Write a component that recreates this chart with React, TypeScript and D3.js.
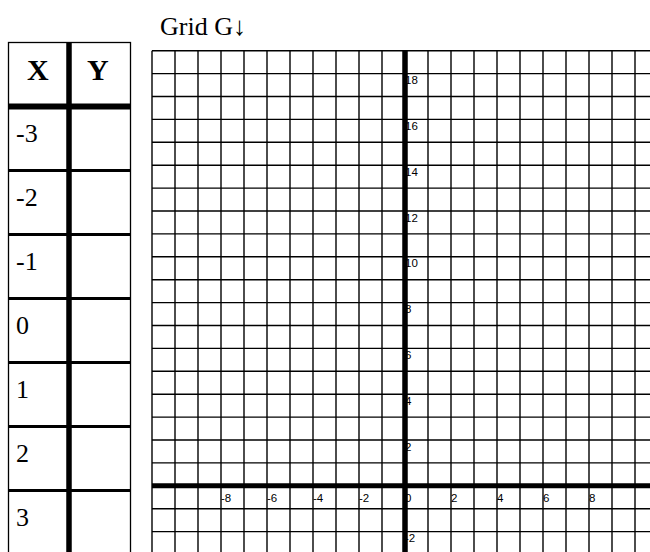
import React from "react";
import * as d3 from "d3";

const title = "Grid G\u2193";
const tableHeaders = ["X", "Y"];
const tableXValues = ["-3", "-2", "-1", "0", "1", "2", "3"];
const xDomain = [-11, 11];
const yDomain = [-3, 19];
const xTickLabels = [-8, -6, -4, -2, 0, 2, 4, 6, 8];
const yTickLabels = [-2, 2, 4, 6, 8, 10, 12, 14, 16, 18];

const W = 650;
const H = 552;

export default function App() {
  const x = d3.scaleLinear().domain(xDomain).range([152, 658]);
  const y = d3.scaleLinear().domain(yDomain).range([554.5, 50.7]);
  const xs = d3.range(xDomain[0], xDomain[1] + 1);
  const ys = d3.range(yDomain[0], yDomain[1] + 1);

  // table layout
  const tLeft = 8.5;
  const tRight = 130.5;
  const tTop = 42.5;
  const divX = 69;
  const headerLine = 106.5;
  const rowH = 64;
  const rowY = d3.scaleLinear().domain([0, 1]).range([headerLine, headerLine + rowH]);

  const serif = "'Liberation Serif', 'Times New Roman', serif";
  const sans = "'Liberation Sans', Arial, sans-serif";

  return (
    <svg
      width={W}
      height={H}
      style={{ position: "absolute", left: 0, top: 0, background: "#fff" }}
    >
      <rect x={0} y={0} width={W} height={H} fill="#fff" />
      {/* title */}
      <text x={160} y={35} fontFamily={serif} fontSize={26} fill="#000">
        {title}
      </text>

      {/* table */}
      <rect
        x={tLeft}
        y={tTop}
        width={tRight - tLeft}
        height={H + 20}
        fill="none"
        stroke="#000"
        strokeWidth={1.3}
      />
      {tableHeaders.map((h, i) => (
        <text
          key={h}
          x={i === 0 ? (tLeft + divX) / 2 - 1 : (divX + tRight) / 2 - 2}
          y={80}
          textAnchor="middle"
          fontFamily={serif}
          fontWeight="bold"
          fontSize={30}
          fill="#000"
        >
          {h}
        </text>
      ))}
      {tableXValues.map((v, i) => (
        <g key={v}>
          {i > 0 && (
            <line
              x1={tLeft}
              x2={tRight}
              y1={rowY(i)}
              y2={rowY(i)}
              stroke="#000"
              strokeWidth={3}
            />
          )}
          <text
            x={16}
            y={rowY(i) + 35}
            fontFamily={serif}
            fontSize={26}
            fill="#000"
          >
            {v}
          </text>
        </g>
      ))}
      <line x1={tLeft} x2={tRight} y1={headerLine} y2={headerLine} stroke="#000" strokeWidth={6} />
      <line x1={divX} x2={divX} y1={tTop} y2={H + 10} stroke="#000" strokeWidth={5.5} />

      {/* grid */}
      {xs.map((v) => (
        <line
          key={"vx" + v}
          x1={x(v)}
          x2={x(v)}
          y1={y(yDomain[1])}
          y2={H + 10}
          stroke="#000"
          strokeWidth={1.4}
        />
      ))}
      {ys.map((v) => (
        <line
          key={"hy" + v}
          x1={x(xDomain[0])}
          x2={W + 10}
          y1={y(v)}
          y2={y(v)}
          stroke="#000"
          strokeWidth={1.4}
        />
      ))}

      {/* tick labels */}
      {xTickLabels.map((v) => (
        <text
          key={"xl" + v}
          x={x(v)}
          y={y(0) + 16}
          fontFamily={sans}
          fontSize={11.5}
          fill="#000"
        >
          {v}
        </text>
      ))}
      {yTickLabels.map((v) => (
        <text
          key={"yl" + v}
          x={x(0)}
          y={y(v) + 10.5}
          fontFamily={sans}
          fontSize={11.5}
          fill="#000"
        >
          {v}
        </text>
      ))}

      {/* axes */}
      <line x1={x(xDomain[0])} x2={W + 10} y1={y(0)} y2={y(0)} stroke="#000" strokeWidth={5} />
      <line x1={x(0)} x2={x(0)} y1={y(yDomain[1])} y2={H + 10} stroke="#000" strokeWidth={5.5} />
    </svg>
  );
}
